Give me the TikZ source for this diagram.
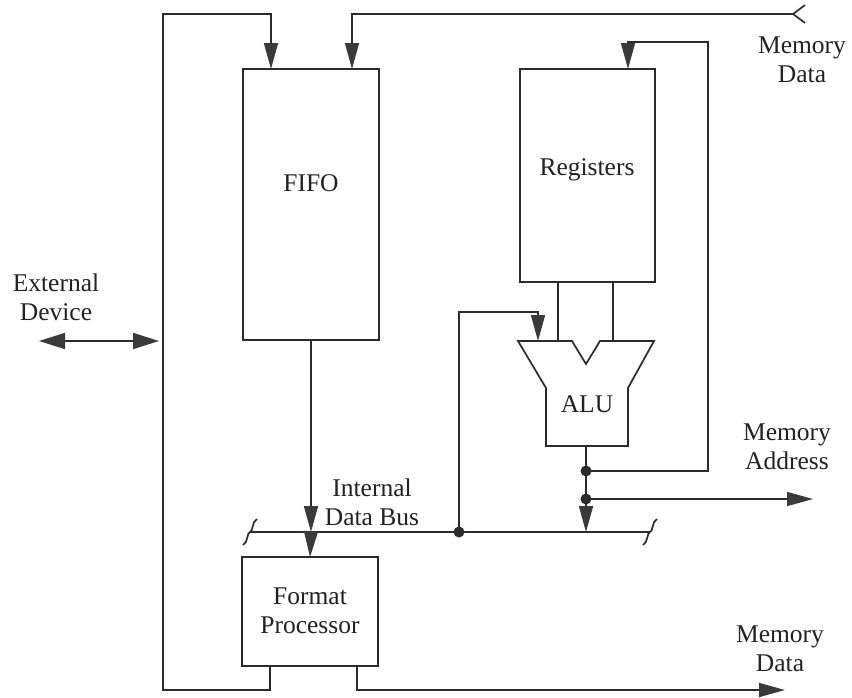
\documentclass[tikz,border=0pt]{standalone}
\usepackage{fontspec}
\setmainfont{Liberation Serif}
\usepackage{tikz}
\usetikzlibrary{arrows.meta,calc}
\definecolor{wireclr}{HTML}{2B2B2B}
\definecolor{headclr}{HTML}{3A3A3A}
\definecolor{textclr}{HTML}{222222}

\tikzset{
  wire/.style={draw=wireclr, line width=1.7pt},
  blk/.style={wire, fill=white, inner sep=0pt, outer sep=0pt},
  flow/.style={wire, -{Triangle[length=26pt,width=14pt,color=headclr]}},
  duplex/.style={wire, {Triangle[length=26pt,width=16pt,color=headclr]}-{Triangle[length=26pt,width=16pt,color=headclr]}},
  lbl/.style={font=\fontsize{25.5}{29}\selectfont, text=textclr, align=center, inner sep=0pt},
  tap/.style={circle, fill=wireclr, inner sep=0pt, minimum size=11pt},
}
% small integral-like mark for a cut bus end
\newcommand{\busbreak}[1]{%
  \draw[wire] ($(#1)+(-7,13)$) .. controls ($(#1)+(-2,11)$) and ($(#1)+(-3,0)$) .. (#1)
    .. controls ($(#1)+(3,0)$) and ($(#1)+(2,-11)$) .. ($(#1)+(7,-13)$);}

\begin{document}
\begin{tikzpicture}[x=1pt,y=-1pt]
  \useasboundingbox (0,0) rectangle (852,697);

  % blocks
  \node[blk, minimum width=136pt, minimum height=271pt] (fifo) at (311,204.5) {};
  \node[blk, minimum width=135pt, minimum height=213pt] (regs) at (587.5,175.5) {};
  \node[blk, minimum width=136pt, minimum height=109pt] (fmt) at (310,611.5) {};

  \node[lbl] (fifoname) at (311,183) {FIFO};
  \node[lbl] (regsname) at (587,170) {Registers};
  \node[lbl] (fmtname) at (310,611) {Format\\Processor};

  % ALU outline with the notch on top
  \draw[wire, fill=white] (518,341) -- (572,341) -- (586,364) -- (600,341) -- (654,341)
    -- (628,388) -- (628,446) -- (546,446) -- (546,388) -- cycle;
  \node[lbl] (aluname) at (587,404) {ALU};
  \coordinate (aluInA) at (558,341);
  \coordinate (aluInB) at (613,341);
  \coordinate (aluInC) at (538,341);
  \coordinate (aluFeed) at (538,312);
  \coordinate (aluOut) at (586,446);

  % internal data bus
  \coordinate (busL) at (250,532);
  \coordinate (busR) at (650,532);
  \draw[wire] (busL) -- (busR);
  \busbreak{busL}
  \busbreak{busR}

  \coordinate (fifoBus) at (311,532);
  \coordinate (aluBus) at (586,532);
  \coordinate (tapBus) at (459,532);
  \coordinate (tapLoop) at (586,471);
  \coordinate (tapAddr) at (586,499);
  \coordinate (loopTop) at (708,42);
  \coordinate (regsIn) at (628,69);
  \coordinate (addrOut) at (813,499);

  \draw[flow] (fifo.south) -- (fifoBus);
  \draw[flow] (fifoBus) -- (fmt.north);
  \draw[wire] (regs.south -| aluInA) -- (aluInA);
  \draw[wire] (regs.south -| aluInB) -- (aluInB);
  \draw[flow] (tapBus) |- (aluFeed) -- (aluInC);
  \draw[flow] (aluOut) -- (aluBus);
  \draw[flow] (tapLoop) -| (loopTop) -| (regsIn);
  \draw[flow] (tapAddr) -- (addrOut);

  \node[tap] (dotBus) at (tapBus) {};
  \node[tap] (dotLoop) at (tapLoop) {};
  \node[tap] (dotAddr) at (tapAddr) {};

  % system side: left bus, memory in/out
  \coordinate (sysTop) at (163,14);
  \coordinate (sysBot) at (163,690);
  \coordinate (fmtOutL) at (270,666);
  \coordinate (fmtOutR) at (357,666);
  \coordinate (fifoInA) at (271,69);
  \coordinate (fifoInB) at (352,69);
  \coordinate (mdIn) at (793,14);
  \coordinate (mdOut) at (785,690);
  \coordinate (extEnd) at (39,341);
  \coordinate (extBus) at (159,341);

  \draw[flow] (fmtOutL) |- (sysBot) -- (sysTop) -| (fifoInA);
  \draw[flow] (fmtOutR) |- (mdOut);
  \draw[flow] (mdIn) -| (fifoInB);
  \draw[wire] ($(mdIn)+(12,-9)$) -- (mdIn) -- ($(mdIn)+(12,9)$);
  \draw[duplex] (extEnd) -- (extBus);

  % labels
  \node[lbl] (extname) at (56,297) {External\\Device};
  \node[lbl] (mdinname) at (802,60) {Memory\\Data};
  \node[lbl] (addrname) at (787,447) {Memory\\Address};
  \node[lbl] (mdoutname) at (780,649) {Memory\\Data};
  \node[lbl] (busname) at (372,502) {Internal\\Data Bus};
\end{tikzpicture}
\end{document}
